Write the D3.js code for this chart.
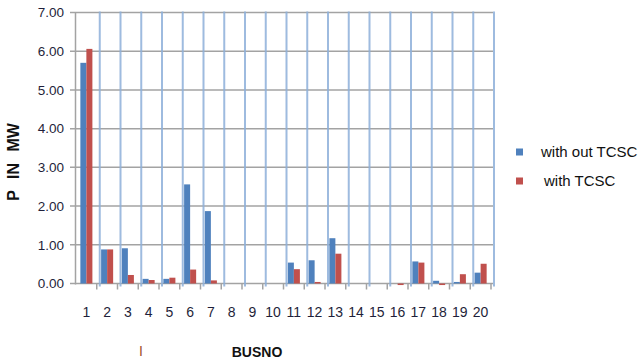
<!DOCTYPE html>
<html><head><meta charset="utf-8">
<script src="https://cdn.jsdelivr.net/npm/d3@7"></script>
<style>body{margin:0;background:#fff}svg{display:block}text{font-family:"Liberation Sans",Arial,sans-serif}</style>
</head><body><svg id="c" width="643" height="362"></svg>
<script>
const categories = ["1","2","3","4","5","6","7","8","9","10","11","12","13","14","15","16","17","18","19","20"];
const withoutTCSC = [5.70,0.88,0.91,0.12,0.12,2.56,1.87,0,0,0,0.54,0.60,1.17,0,0,0,0.57,0.07,0.04,0.28];
const withTCSC    = [6.06,0.88,0.22,0.09,0.15,0.36,0.08,0,0,0,0.37,0.04,0.77,0,0,-0.04,0.54,-0.04,0.24,0.51];
const yTicks = [0,1,2,3,4,5,6,7];
const seriesNames = ["with out TCSC","with TCSC"];
const colors = ["#4f81bd","#c0504d"];

const svg = d3.select("#c");
const L=76, R=491, T=12.5, B=283.5;
const x = d3.scaleBand().domain(categories).range([L,R]).padding(0);
const bw = x.bandwidth();
const x1 = d3.scaleBand().domain([0,1]).range([bw*0.21, bw*0.79]).padding(0);
const y = d3.scaleLinear().domain([0,7]).range([B,T]);

// horizontal gridlines
svg.append("g").selectAll("line").data(yTicks).join("line")
  .attr("x1",L-6).attr("x2",R+2).attr("y1",d=>y(d)).attr("y2",d=>y(d))
  .attr("stroke","#a3a3a3").attr("stroke-width",1.5);
// y axis line
svg.append("line").attr("x1",L-0.5).attr("x2",L-0.5).attr("y1",T).attr("y2",B+1)
  .attr("stroke","#a3a3a3").attr("stroke-width",1.5);
// y tick labels
svg.append("g").selectAll("text").data(yTicks).join("text")
  .attr("x",L-12).attr("y",d=>y(d)).attr("dy","0.35em").attr("text-anchor","end")
  .attr("font-size",13.5).attr("fill","#1f1f3a").text(d=>d3.format(".2f")(d));

// blue vertical (hand-drawn-like) lines at category boundaries
svg.append("g").selectAll("line").data(categories).join("line")
  .attr("x1",d=>x(d)+bw+3).attr("x2",d=>x(d)+bw+3)
  .attr("y1",T-1).attr("y2",B+3)
  .attr("stroke","#8eb0da").attr("stroke-width",2).attr("opacity",0.85);

// bars
const groups = svg.append("g").selectAll("g").data(categories).join("g")
  .attr("transform",d=>`translate(${x(d)},0)`);
[withoutTCSC, withTCSC].forEach((vals,si)=>{
  groups.append("rect")
    .attr("x",x1(si)).attr("width",x1.bandwidth())
    .attr("y",(d,i)=>y(Math.max(0,vals[i])))
    .attr("height",(d,i)=>Math.abs(y(vals[i])-y(0)))
    .attr("fill",colors[si]);
});

// x tick marks
svg.append("g").selectAll("line").data(categories).join("line")
  .attr("x1",d=>x(d)+bw).attr("x2",d=>x(d)+bw).attr("y1",B).attr("y2",B+6)
  .attr("stroke","#a3a3a3").attr("stroke-width",1.5);
// x labels
svg.append("g").selectAll("text").data(categories).join("text")
  .attr("x",d=>x(d)+bw/2).attr("y",312).attr("dy","0.35em").attr("text-anchor","middle")
  .attr("font-size",14).attr("fill","#1f1f3a").text(d=>d);

// axis titles
svg.append("text").attr("transform","translate(19,162) rotate(-90)")
  .attr("text-anchor","middle").attr("font-size",16).attr("font-weight","bold")
  .attr("word-spacing",7).attr("fill","#111").text("P IN MW");
svg.append("text").attr("x",257).attr("y",357).attr("text-anchor","middle")
  .attr("font-size",14).attr("font-weight","bold").attr("fill","#111").text("BUSNO");
svg.append("text").attr("x",141).attr("y",356).attr("text-anchor","middle")
  .attr("font-size",14).attr("fill","#a0522d").text("I");

// legend
const lg = svg.append("g").selectAll("g").data(seriesNames).join("g")
  .attr("transform",(d,i)=>`translate(516,${152+i*29})`);
lg.append("rect").attr("x",0).attr("y",-3.5).attr("width",7).attr("height",7).attr("fill",(d,i)=>colors[i]);
lg.append("text").attr("x",(d,i)=>i?28:25).attr("y",0).attr("dy","0.35em")
  .attr("font-size",15).attr("fill","#111").text(d=>d);
</script></body></html>
